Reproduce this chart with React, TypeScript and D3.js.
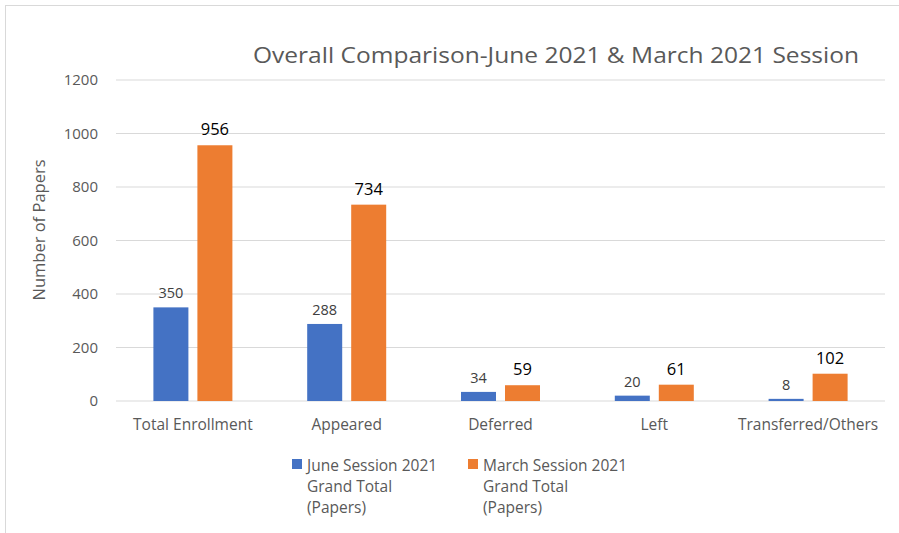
import * as d3 from "d3";

const categories = ["Total Enrollment", "Appeared", "Deferred", "Left", "Transferred/Others"];
const juneValues = [350, 288, 34, 20, 8];
const marchValues = [956, 734, 59, 61, 102];
const yTicks = [0, 200, 400, 600, 800, 1000, 1200];
const seriesNames = [
  ["June Session 2021", "Grand Total", "(Papers)"],
  ["March Session 2021", "Grand Total", "(Papers)"],
];

const W = 899;
const H = 533;
const margin = { top: 80, right: 14, bottom: 132, left: 116 };
const blue = "#4472C4";
const orange = "#ED7D31";
const font = "'Open Sans', sans-serif";

export default function App() {
  const innerW = W - margin.left - margin.right;
  const innerH = H - margin.top - margin.bottom;

  const x = d3.scaleBand().domain(categories).range([0, innerW]);
  const y = d3.scaleLinear().domain([0, 1200]).range([innerH, 0]);
  const barW = 35;
  const gap = 9;

  return (
    <svg width={W} height={H} style={{ position: "absolute", left: 0, top: 0, background: "#fff" }}>
      <rect x={5.5} y={5.5} width={W + 10} height={H + 10} fill="#fff" stroke="#d9d9d9" />
      <text x={556} y={63} textAnchor="middle" fontFamily={font} fontSize={22} fill="#595959"
        textLength={606} lengthAdjust="spacingAndGlyphs">
        Overall Comparison-June 2021 &amp; March 2021 Session
      </text>
      <text transform={`translate(45,230) rotate(-90)`} textAnchor="middle"
        fontFamily={font} fontSize={16.5} fill="#595959">
        Number of Papers
      </text>
      <g transform={`translate(${margin.left},${margin.top})`}>
        {yTicks.map((t) => (
          <g key={t}>
            <line x1={0} x2={innerW} y1={y(t)} y2={y(t)} stroke="#d9d9d9" strokeWidth={1} />
            <text x={-18} y={y(t)} dy="0.35em" textAnchor="end" fontFamily={font} fontSize={15} fill="#595959">
              {t}
            </text>
          </g>
        ))}
        {categories.map((c, i) => {
          const cx = (x(c) as number) + x.bandwidth() / 2;
          const bx = cx - gap / 2 - barW;
          const ox = cx + gap / 2;
          return (
            <g key={c}>
              <rect x={bx} y={y(juneValues[i])} width={barW} height={innerH - y(juneValues[i])} fill={blue} />
              <rect x={ox} y={y(marchValues[i])} width={barW} height={innerH - y(marchValues[i])} fill={orange} />
              <text x={bx + barW / 2} y={y(juneValues[i]) - 9} textAnchor="middle" fontFamily={font}
                fontSize={14.5} fill="#404040">
                {juneValues[i]}
              </text>
              <text x={ox + barW / 2} y={y(marchValues[i]) - 10} textAnchor="middle" fontFamily={font}
                fontSize={16.5} fill="#000">
                {marchValues[i]}
              </text>
              <text x={cx} y={innerH + 29} textAnchor="middle" fontFamily={font} fontSize={15.5} fill="#595959">
                {c}
              </text>
            </g>
          );
        })}
      </g>
      {seriesNames.map((lines, i) => {
        const lx = i === 0 ? 292 : 468;
        return (
          <g key={i}>
            <rect x={lx} y={459} width={10} height={10} fill={i === 0 ? blue : orange} />
            {lines.map((l, j) => (
              <text key={j} x={lx + 15} y={471 + j * 21} fontFamily={font} fontSize={15.5} fill="#595959">
                {l}
              </text>
            ))}
          </g>
        );
      })}
    </svg>
  );
}
